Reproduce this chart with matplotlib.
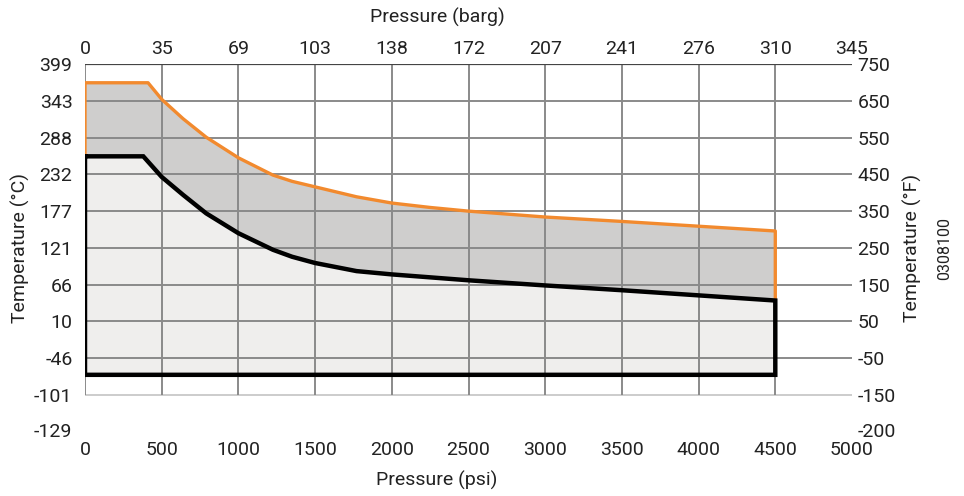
import matplotlib
matplotlib.use("Agg")
import matplotlib.pyplot as plt
import numpy as np

plt.rcParams['font.family'] = ['Roboto', 'DejaVu Sans']

# pressure ticks (psi on bottom, barg on top)
psi_ticks = [0, 500, 1000, 1500, 2000, 2500, 3000, 3500, 4000, 4500, 5000]
barg_labels = ["0", "35", "69", "103", "138", "172", "207", "241", "276", "310", "345"]

# temperature ticks (degF positions, degC labels on the left)
f_ticks = [750, 650, 550, 450, 350, 250, 150, 50, -50, -150, -200]
c_labels = ["399", "343", "288", "232", "177", "121", "66", "10", "-46", "-101", "-129"]

# outer (orange) limit curve
psi_max = [0, 411, 500, 640, 790, 1000, 1225, 1350, 1500, 1770, 2000, 2250, 2500, 3000, 3500, 4000, 4500]
f_max = [699, 699, 654, 601, 551, 495, 448, 431, 416, 389, 372, 360, 350, 334, 322, 309, 296]

# inner (black) limit curve
psi_min = [0, 380, 500, 640, 790, 1000, 1225, 1350, 1500, 1770, 2000, 2250, 2500, 3000, 3500, 4000, 4500]
f_min = [499, 499, 443, 394, 344, 290, 245, 226, 209, 187, 178, 170, 162, 148, 135, 121, 107]
f_bottom = -95

ORANGE = "#f28a2e"
GRID = "#8a8a8a"
TXT = "#222222"

# the chart's temperature axis is stretched below -150 F
_lin = [-300, -200, -150, 800]
_disp = [-435, -245, -150, 800]


def fwd(v):
    return np.interp(v, _lin, _disp)


def inv(v):
    return np.interp(v, _disp, _lin)


fig = plt.figure(figsize=(9.64, 4.96), dpi=100)
ax = fig.add_axes([85 / 964, 1 - 430 / 496, (852 - 85) / 964, (430 - 64) / 496])
ax.set_yscale("function", functions=(fwd, inv))
ax.set_xlim(0, 5000)
ax.set_ylim(-200, 750)

# filled regions
end = psi_max[-1]
ax.fill(psi_max + [end, 0], f_max + [f_bottom, f_bottom], color="#cfcecd", lw=0, zorder=0)
ax.fill(psi_min + [end, 0], f_min + [f_bottom, f_bottom], color="#efeeed", lw=0, zorder=0.5)

# grid
for f in f_ticks[1:-1]:
    ax.hlines(f, 0, 5000, color=GRID if f > -150 else "#cccccc", lw=1.4, zorder=1)
ax.vlines(psi_ticks[:-1], -150, 750, color=GRID, lw=1.4, zorder=1)
ax.hlines(750, 0, 5000, color="#444444", lw=1.6, zorder=1)

# limit lines
ax.plot([0] + psi_max + [end], [f_min[0]] + f_max + [f_min[-1]], color=ORANGE, lw=2.4,
        solid_joinstyle="round", zorder=2)
ax.plot(psi_min + [end, 0, 0], f_min + [f_bottom, f_bottom, f_min[0]], color="black", lw=3.2,
        solid_joinstyle="miter", zorder=3)

for s in ax.spines.values():
    s.set_visible(False)

FS = 14
ax.set_xticks(psi_ticks)
ax.set_xticklabels([str(p) for p in psi_ticks])
ax.set_yticks(f_ticks)
ax.set_yticklabels(c_labels)
ax.tick_params(length=0, labelsize=FS, labelcolor=TXT)
ax.tick_params(axis="x", pad=8)
ax.tick_params(axis="y", pad=9)

ax_r = ax.twinx()
ax_r.set_yscale("function", functions=(fwd, inv))
ax_r.set_ylim(ax.get_ylim())
ax_r.set_yticks(f_ticks)
ax_r.set_yticklabels([str(f) for f in f_ticks])
ax_r.tick_params(length=0, labelsize=FS, labelcolor=TXT, pad=4)

ax_t = ax.twiny()
ax_t.set_xlim(ax.get_xlim())
ax_t.set_xticks(psi_ticks)
ax_t.set_xticklabels(barg_labels)
ax_t.tick_params(length=0, labelsize=FS, labelcolor=TXT, pad=4)

for a in (ax_r, ax_t):
    for s in a.spines.values():
        s.set_visible(False)

fig.text(437 / 964, 1 - 17 / 496, "Pressure (barg)", ha="center", va="center", fontsize=FS, color=TXT)
fig.text(437 / 964, 1 - 480 / 496, "Pressure (psi)", ha="center", va="center", fontsize=FS, color=TXT)
fig.text(20 / 964, 1 - 248 / 496, "Temperature (°C)", ha="center", va="center", rotation=90,
         fontsize=FS, color=TXT)
fig.text(912 / 964, 1 - 248 / 496, "Temperature (°F)", ha="center", va="center", rotation=90,
         fontsize=FS, color=TXT)
fig.text(945 / 964, 1 - 248 / 496, "0308100", ha="center", va="center", rotation=90,
         fontsize=11.5, color=TXT)

fig.savefig("out.png", dpi=100, facecolor="white")
